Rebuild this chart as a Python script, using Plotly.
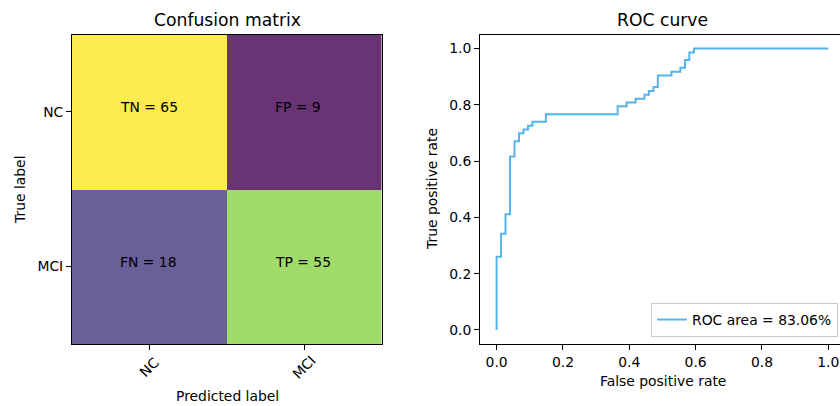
import plotly.graph_objects as go

# ---- data ----
class_labels = ["NC", "MCI"]
cm_values = [[65, 9], [18, 55]]
cm_names = [["TN", "FP"], ["FN", "TP"]]

roc_fpr = [0.0, 0.0135, 0.027, 0.0405, 0.054, 0.0676, 0.081, 0.0946, 0.108, 0.1486,
           0.365, 0.392, 0.419, 0.446, 0.459, 0.473, 0.486, 0.527, 0.554, 0.568,
           0.581, 0.595, 1.0]
roc_tpr = [0.0, 0.260, 0.342, 0.411, 0.616, 0.671, 0.699, 0.712, 0.726, 0.740,
           0.767, 0.795, 0.808, 0.822, 0.836, 0.849, 0.863, 0.904, 0.918, 0.932,
           0.959, 0.986, 1.0]
roc_auc_label = "ROC area = 83.06%"
tick_vals = [0.0, 0.2, 0.4, 0.6, 0.8, 1.0]

W, H = 840, 406
FONT = "DejaVu Sans"
TICK = 13.9
LAB = 13.9
TITLE = 17.2

fig = go.Figure()

flat = [v for row in cm_values for v in row]
fig.add_trace(go.Heatmap(
    z=cm_values, x=[0, 1], y=[0, 1],
    colorscale="Viridis", zmin=min(flat), zmax=max(flat),
    opacity=0.8, showscale=False, xaxis="x", yaxis="y", hoverinfo="z",
    xgap=0, ygap=0,
))

fig.add_trace(go.Scatter(
    x=roc_fpr, y=roc_tpr, mode="lines", line_shape="vh",
    line=dict(color="#56B4E9", width=2),
    name=roc_auc_label, xaxis="x2", yaxis="y2",
))

ydom = [1 - 344 / H, 1 - 34.5 / H]

axis_common = dict(showline=True, mirror=True, linecolor="black", linewidth=1,
                   ticks="outside", ticklen=5, tickwidth=1, tickcolor="black",
                   showgrid=False, zeroline=False,
                   tickfont=dict(family=FONT, size=TICK, color="black"))

fig.update_layout(
    width=W, height=H,
    margin=dict(l=0, r=0, t=0, b=0, autoexpand=False),
    paper_bgcolor="white", plot_bgcolor="white",
    font=dict(family=FONT, color="black"),
    xaxis=dict(domain=[72 / W, 381.5 / W], range=[-0.5, 1.5],
               tickvals=[0, 1], ticktext=["", ""],
               anchor="y", **axis_common),
    yaxis=dict(domain=ydom, range=[1.5, -0.5],
               tickvals=[0, 1], ticktext=class_labels,
               anchor="x", **axis_common),
    xaxis2=dict(domain=[480 / W, 1.0], range=[-0.05, (840 - 496.3) / 332],
                tickvals=tick_vals, ticktext=[f"{v:.1f}" for v in tick_vals],
                anchor="y2", **axis_common),
    yaxis2=dict(domain=ydom, range=[-0.05, 1.05],
                tickvals=tick_vals, ticktext=[f"{v:.1f}" for v in tick_vals],
                anchor="x2", **axis_common),
    showlegend=True,
    legend=dict(x=838 / W, xanchor="right", y=(H - 337) / H, yanchor="bottom",
                bgcolor="rgba(255,255,255,0.8)", bordercolor="#cccccc", borderwidth=1,
                font=dict(family=FONT, size=LAB, color="black")),
)

anns = []
for i in range(2):
    for j in range(2):
        anns.append(dict(x=j - 0.2, y=i, xref="x", yref="y",
                         text=f"{cm_names[i][j]} = {cm_values[i][j]}",
                         showarrow=False, xanchor="left", yanchor="middle", yshift=5,
                         font=dict(family=FONT, size=LAB, color="black")))

# rotated category tick labels centred below their ticks
for j, lab in enumerate(class_labels):
    anns.append(dict(x=j, y=1 - 367 / H, xref="x", yref="paper", text=lab,
                     showarrow=False, xanchor="center", yanchor="middle",
                     textangle=-45, font=dict(family=FONT, size=TICK, color="black")))

def pann(text, px, py, size, angle=0):
    anns.append(dict(x=px / W, y=1 - py / H, xref="paper", yref="paper", text=text,
                     showarrow=False, xanchor="center", yanchor="middle",
                     textangle=angle, font=dict(family=FONT, size=size, color="black")))

pann("Confusion matrix", 227, 20, TITLE)
pann("ROC curve", 662.5, 20, TITLE)
pann("Predicted label", 227, 396, LAB)
pann("True label", 20, 190, LAB, -90)
pann("True positive rate", 432, 189, LAB, -90)
pann("False positive rate", 662.5, 381, LAB)

fig.update_layout(annotations=anns)

fig.write_html("out.html")
